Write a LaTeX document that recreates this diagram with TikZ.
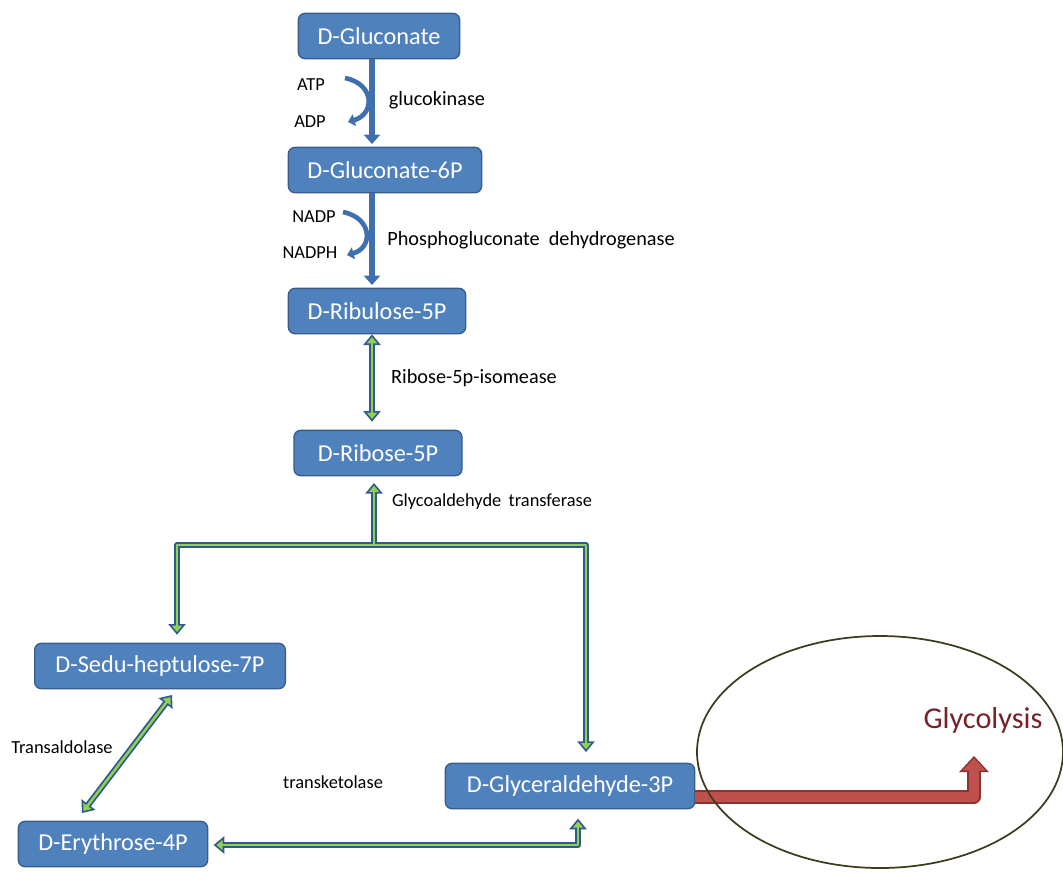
\documentclass[tikz,border=0pt]{standalone}
\usepackage{fontspec}
\setmainfont{Carlito}
\usetikzlibrary{arrows.meta}
\definecolor{boxblue}{HTML}{4F81BD}
\definecolor{boxline}{HTML}{385D8A}
\definecolor{arrblue}{HTML}{3F6FAE}
\definecolor{edgeblue}{HTML}{2F5A8F}
\definecolor{leafgreen}{HTML}{92D050}
\definecolor{glyred}{HTML}{C0504D}
\definecolor{glyredline}{HTML}{8C3331}
\definecolor{ovalline}{HTML}{3D3A1E}
\definecolor{glytext}{HTML}{772228}
\begin{document}
\begin{tikzpicture}[x=0.75pt,y=-0.75pt,line join=round,
	>={Triangle[width=13pt,length=8pt,fill=leafgreen,line width=1.2pt]}]
	\tikzset{box/.style={draw=boxline,line width=1pt,fill=boxblue,rounded corners=5pt,text=white,minimum height=34pt,inner sep=0pt,font=\fontsize{18.2}{21}\selectfont},
		lab/.style={font=\fontsize{15.2}{18}\selectfont},
		smalllab/.style={font=\fontsize{13.8}{16}\selectfont},
		mainarr/.style={draw=arrblue,line width=3.8pt,-{Triangle[width=12pt,length=7pt]}},
		cofarr/.style={draw=arrblue,line width=3.5pt,-{Triangle[width=9pt,length=5pt]}},
		outer/.style={draw=edgeblue,line width=4.6pt},
		inner/.style={draw=leafgreen,line width=1.9pt}}
	\useasboundingbox (0,0) rectangle (1063,872);
	% metabolites
	\node[box,minimum width=121pt] (glc) at (379,36) {D-Gluconate};
	\node[box,minimum width=145pt] (glc6p) at (385,170) {D-Gluconate-6P};
	\node[box,minimum width=133pt] (ribu) at (377,311) {D-Ribulose-5P};
	\node[box,minimum width=126pt] (ribo) at (378,453) {D-Ribose-5P};
	\node[box,minimum width=188pt] (sedu) at (160,666) {D-Sedu-heptulose-7P};
	\node[box,minimum width=142pt] (eryt) at (113,844) {D-Erythrose-4P};
	\node[box,minimum width=187pt] (gly) at (570,786) {D-Glyceraldehyde-3P};
	% enzymes and cofactors
	\node[smalllab] (atp) at (311,85) {ATP};
	\node[smalllab] (adp) at (310,122) {ADP};
	\node[lab] (gk) at (437,100) {glucokinase};
	\node[smalllab] (nadp) at (314,217) {NADP};
	\node[smalllab] (nadph) at (310,253) {NADPH};
	\node[lab] (pgd) at (531,240) {\spaceskip 0.45em\relax Phosphogluconate dehydrogenase};
	\node[lab] (rpi) at (474,378) {Ribose-5p-isomease};
	\node[smalllab] (gat) at (492,502) {\spaceskip 0.4em\relax Glycoaldehyde transferase};
	\node[smalllab] (tal) at (62,747) {Transaldolase};
	\node[smalllab] (tkt) at (333,782) {transketolase};
	\node[font=\fontsize{22.7}{26}\selectfont,text=glytext] (glyco) at (983,720) {Glycolysis};
	% bend points
	\coordinate (ax) at (372,0);
	\coordinate (jn) at (374,545);
	\coordinate (jl) at (177,545);
	\coordinate (jr) at (586,545);
	\coordinate (ts) at (172,695);
	\coordinate (te) at (82,813);
	\coordinate (tk) at (578,845);
	\coordinate (rd) at (974,797);
	\coordinate (rtip) at (974,756);
	% oxidative branch
	\draw[mainarr,shorten >=2pt] (glc.south -| ax) -- (glc6p.north -| ax);
	\draw[mainarr,shorten >=2pt] (glc6p.south -| ax) -- (ribu.north -| ax);
	\draw[cofarr] (345,78) .. controls (375,84) and (375,114) .. (348,122);
	\draw[cofarr] (343,212) .. controls (373,218) and (373,248) .. (347,255);
	% non-oxidative branch
	\draw[outer,<->,shorten >=6pt] (ribu.south -| ax) -- (ribo.north -| ax);
	\draw[outer,->,shorten >=5pt] (jn) -- (ribo.south -| jn);
	\draw[outer,<->,shorten <=6pt,shorten >=8pt] (sedu.north -| jl) -- (jl) -- (jr) -- (gly.north -| jr);
	\draw[outer,<->] (ts) -- (te);
	\draw[outer,<->,shorten <=4pt,shorten >=7pt] (eryt.east |- tk) -- (tk) -- (gly.south -| tk);
	\draw[inner,shorten <=6pt,shorten >=12pt] (ribu.south -| ax) -- (ribo.north -| ax);
	\draw[inner,shorten >=11pt] (jn) -- (ribo.south -| jn);
	\draw[inner,shorten <=12pt,shorten >=14pt] (sedu.north -| jl) -- (jl) -- (jr) -- (gly.north -| jr);
	\draw[inner,shorten <=6pt,shorten >=6pt] (ts) -- (te);
	\draw[inner,shorten <=10pt,shorten >=13pt] (eryt.east |- tk) -- (tk) -- (gly.south -| tk);
	% to glycolysis
	\draw[draw=glyredline,line width=10pt,-{Triangle[width=22pt,length=12pt,fill=glyred,line width=1pt]}] (gly.east |- rd) -- (rd) -- (rtip);
	\draw[draw=glyred,line width=8pt,shorten >=9pt] (gly.east |- rd) -- (rd) -- (rtip);
	\draw[ovalline,line width=1.3pt] (880,752) ellipse [x radius=183,y radius=116];
\end{tikzpicture}
\end{document}
